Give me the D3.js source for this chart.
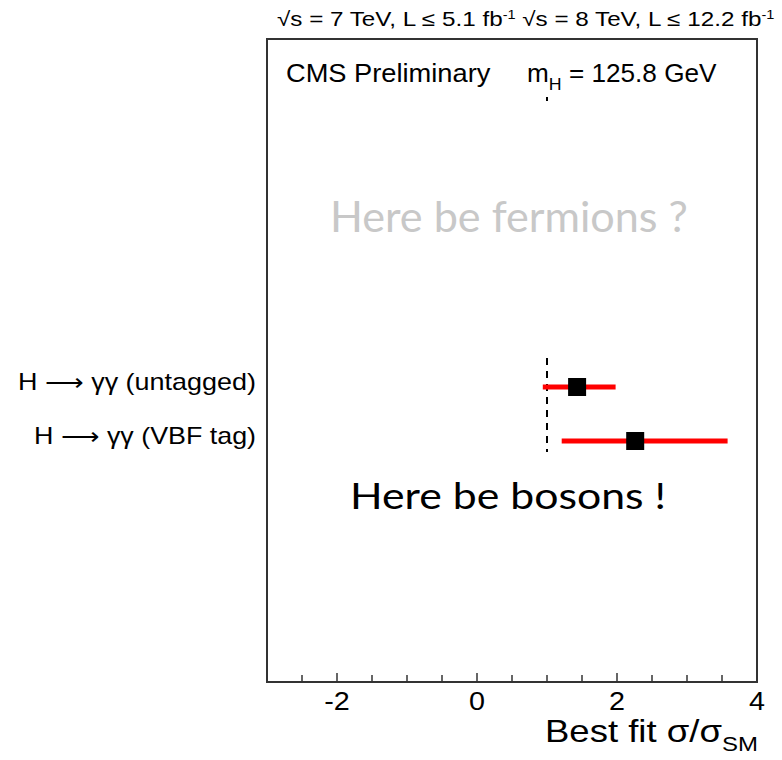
<!DOCTYPE html>
<html><head><meta charset="utf-8">
<script src="https://cdn.jsdelivr.net/npm/d3@7"></script>
<style>body{margin:0;background:#fff}</style>
</head><body><svg id="c" width="782" height="760"></svg>
<script>
// ---- data ----
const categories = ["H \u27F6 \u03b3\u03b3 (untagged)", "H \u27F6 \u03b3\u03b3 (VBF tag)"];
const bestFit   = [1.43, 2.26];
const errLow    = [0.94, 1.21];
const errHigh   = [1.98, 3.58];
const smValue   = 1;
const xDomain   = [-3, 4];
const xMajorTicks = [-2, 0, 2, 4];
const xMinorTicks = [-2.5, -2, -1.5, -1, -0.5, 0, 0.5, 1, 1.5, 2, 2.5, 3, 3.5];

// ---- layout ----
const svg = d3.select("#c");
const L = 267, R = 757, T = 39, B = 682;
const x = d3.scaleLinear().domain(xDomain).range([L, R]);
const y = d3.scaleBand().domain(categories).range([360, 468]).padding(0);
const yc = d => y(d) + y.bandwidth() / 2;
const font = "'Liberation Sans', Arial, Helvetica, sans-serif";
const font2 = "Lato, 'Open Sans', sans-serif";

// stretch a text horizontally so it spans x0..x1
function fit(sel, x0, x1) {
  const bb = sel.node().getBBox();
  const s = (x1 - x0) / bb.width;
  sel.attr("transform", `translate(${x0 - bb.x * s},0) scale(${s},1)`);
}

// header
fit(svg.append("text").attr("x", 0).attr("y", 26)
  .attr("font-family", font).attr("font-size", 20).attr("fill", "#000")
  .html("\u221As = 7 TeV, L \u2264 5.1 fb<tspan dy='-7' font-size='12'>-1</tspan><tspan dy='7'>  \u221As = 8 TeV, L \u2264 12.2 fb</tspan><tspan dy='-7' font-size='12'>-1</tspan>"),
  277, 775);

// frame
svg.append("rect").attr("x", L).attr("y", T).attr("width", R - L).attr("height", B - T)
  .attr("fill", "none").attr("stroke", "#333").attr("stroke-width", 2);

// SM dashed line
const smG = svg.append("g").attr("stroke", "#000").attr("stroke-width", 2).attr("stroke-dasharray", "7,6");
smG.append("line").attr("x1", x(smValue)).attr("x2", x(smValue)).attr("y1", 97).attr("y2", 101);
smG.append("line").attr("x1", x(smValue)).attr("x2", x(smValue)).attr("y1", 358).attr("y2", 452);

// CMS labels
fit(svg.append("text").attr("x", 0).attr("y", 82).attr("font-family", font).attr("font-size", 25)
  .text("CMS Preliminary"), 286, 491);
fit(svg.append("text").attr("x", 0).attr("y", 82).attr("font-family", font).attr("font-size", 25)
  .html("m<tspan dy='8' font-size='17'>H</tspan><tspan dy='-8'> = 125.8 GeV</tspan>"), 527, 717);

// axis ticks
const axisG = svg.append("g").attr("stroke", "#333").attr("stroke-width", 1.5);
axisG.selectAll("line").data(xMinorTicks).join("line")
  .attr("x1", d => x(d)).attr("x2", d => x(d))
  .attr("y1", d => B - (xMajorTicks.includes(d) ? 9 : 7)).attr("y2", B);
svg.selectAll("text.tick").data(xMajorTicks).join("text")
  .attr("class", "tick").attr("x", 0).attr("y", 710).attr("text-anchor", "middle")
  .attr("transform", d => `translate(${x(d)},0) scale(1.15,1)`)
  .attr("font-family", font).attr("font-size", 25).text(d => d);

// axis title
fit(svg.append("text").attr("x", 0).attr("y", 742)
  .attr("font-family", font).attr("font-size", 32)
  .html("Best fit \u03c3/\u03c3<tspan dy='9' font-size='21'>SM</tspan>"), 545, 758);

// category labels
svg.selectAll("text.cat").data(categories).join("text")
  .attr("class", "cat").attr("x", 0).attr("y", d => yc(d) + 3)
  .attr("font-family", font).attr("font-size", 23).text(d => d)
  .each(function () { fit(d3.select(this), this.textContent.includes("untagged") ? 18 : 34, 256); });

// error bars
svg.selectAll("line.err").data(categories).join("line")
  .attr("class", "err")
  .attr("x1", (d, i) => x(errLow[i])).attr("x2", (d, i) => x(errHigh[i]))
  .attr("y1", d => yc(d)).attr("y2", d => yc(d))
  .attr("stroke", "#ff0000").attr("stroke-width", 5);
// points
const s = 18;
svg.selectAll("rect.pt").data(categories).join("rect")
  .attr("class", "pt")
  .attr("x", (d, i) => x(bestFit[i]) - s / 2).attr("y", d => yc(d) - s / 2)
  .attr("width", s).attr("height", s).attr("fill", "#000");

// annotations
fit(svg.append("text").attr("x", 0).attr("y", 232)
  .attr("font-family", font2).attr("font-size", 42).attr("fill", "#c8c8c8")
  .text("Here be fermions ?"), 330, 688);
fit(svg.append("text").attr("x", 0).attr("y", 509)
  .attr("font-family", font2).attr("font-size", 36).attr("fill", "#000")
  .text("Here be bosons !"), 350, 666);
</script></body></html>
